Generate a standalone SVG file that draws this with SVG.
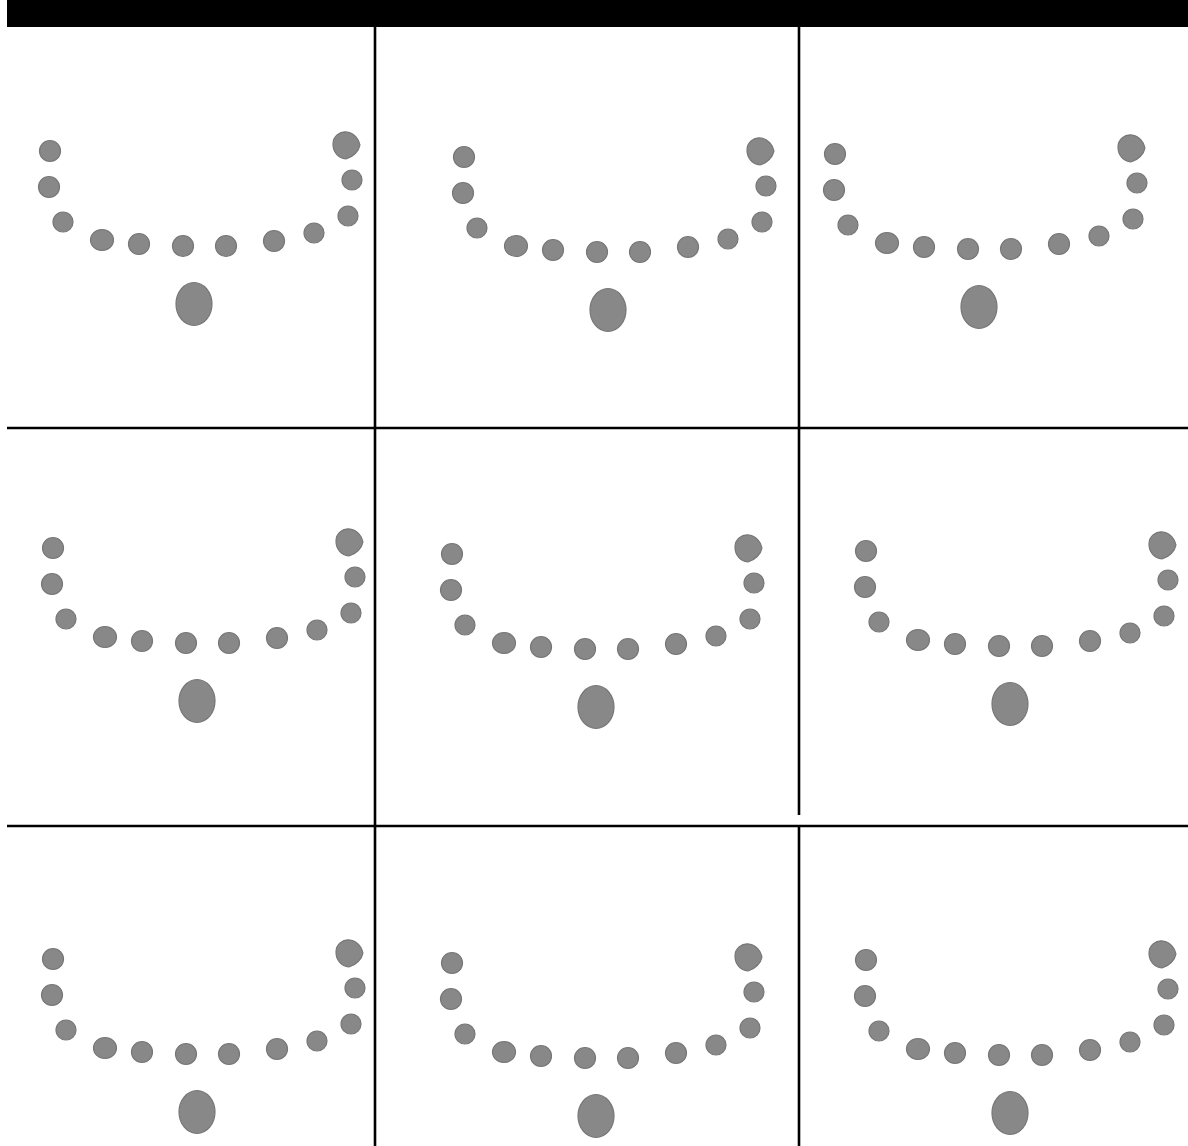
<svg xmlns="http://www.w3.org/2000/svg" xmlns:xlink="http://www.w3.org/1999/xlink" width="1188" height="1146" viewBox="0 0 1188 1146">
<style>
.d{fill:#888888;stroke:#777777;stroke-width:1.2}
.g{stroke:#000000;stroke-width:2.6;fill:none}
</style>
<defs>
<g id="pattern">
<circle class="d" cx="50" cy="151" r="10.5"/>
<circle class="d" cx="49" cy="187" r="10.5"/>
<circle class="d" cx="63" cy="222" r="10"/>
<ellipse class="d" cx="102" cy="240" rx="11.5" ry="10.5"/>
<circle class="d" cx="139" cy="244" r="10.5"/>
<circle class="d" cx="183" cy="246" r="10.5"/>
<circle class="d" cx="226" cy="246" r="10.5"/>
<circle class="d" cx="274" cy="241" r="10.5"/>
<circle class="d" cx="314" cy="233" r="10"/>
<circle class="d" cx="348" cy="216" r="10"/>
<circle class="d" cx="352" cy="180" r="10"/>
<path class="d" d="M333,144 C333,136 340,131 347,132 C354,133 359,139 360,145 C359,151 353,157 346,159 C338,158 333,152 333,144 Z"/>
<ellipse class="d" cx="194" cy="304" rx="18" ry="21.5"/>
</g>
</defs>
<rect width="1188" height="1146" fill="#ffffff"/>
<rect x="7" y="0" width="1181" height="27" fill="#000000"/>
<g id="connectors">
<line class="g" x1="375" y1="27" x2="375" y2="1146"/>
<line class="g" x1="799" y1="27" x2="799" y2="815"/>
<line class="g" x1="799" y1="826" x2="799" y2="1146"/>
<line class="g" x1="7" y1="428" x2="1188" y2="428"/>
<line class="g" x1="7" y1="826" x2="1188" y2="826"/>
</g>
<g id="cell-1-1"><use xlink:href="#pattern" transform="translate(0,0)"/></g>
<g id="cell-1-2"><use xlink:href="#pattern" transform="translate(414,6)"/></g>
<g id="cell-1-3"><use xlink:href="#pattern" transform="translate(785,3)"/></g>
<g id="cell-2-1"><use xlink:href="#pattern" transform="translate(3,397)"/></g>
<g id="cell-2-2"><use xlink:href="#pattern" transform="translate(402,403)"/></g>
<g id="cell-2-3"><use xlink:href="#pattern" transform="translate(816,400)"/></g>
<g id="cell-3-1"><use xlink:href="#pattern" transform="translate(3,808)"/></g>
<g id="cell-3-2"><use xlink:href="#pattern" transform="translate(402,812)"/></g>
<g id="cell-3-3"><use xlink:href="#pattern" transform="translate(816,809)"/></g>
</svg>
